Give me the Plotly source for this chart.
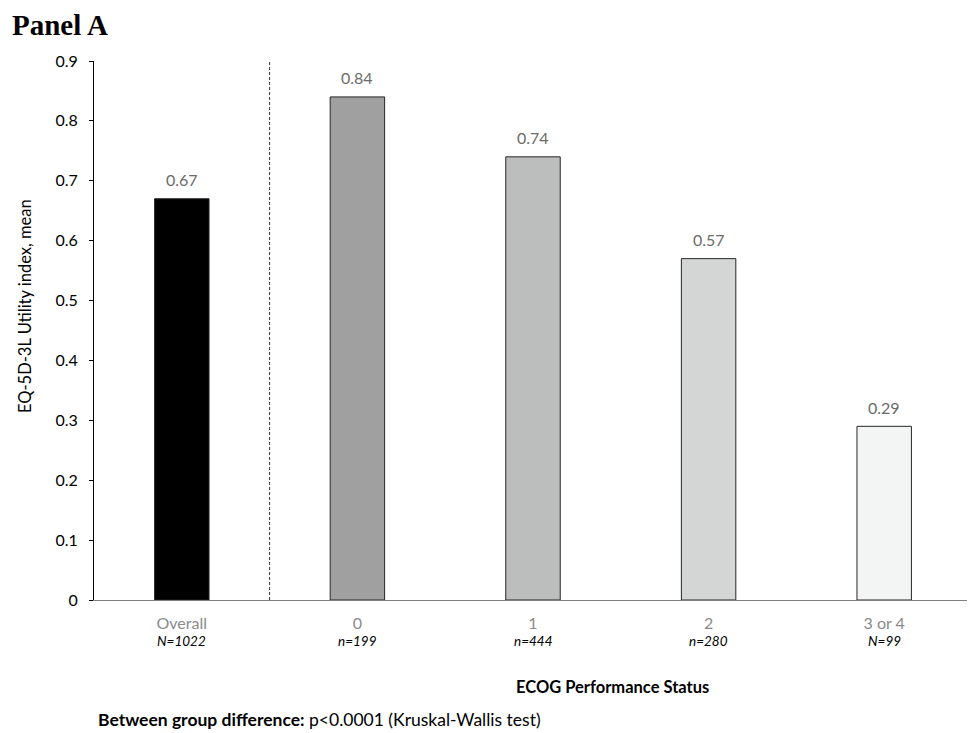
import plotly.graph_objects as go

categories = ["Overall", "0", "1", "2", "3 or 4"]
values = [0.67, 0.84, 0.74, 0.57, 0.29]
n_labels = ["N=1022", "n=199", "n=444", "n=280", "N=99"]
bar_colors = ["#000000", "#a0a0a0", "#bcbdbd", "#d4d5d5", "#f3f4f4"]
y_ticks = [0, 0.1, 0.2, 0.3, 0.4, 0.5, 0.6, 0.7, 0.8, 0.9]
y_tick_text = ["0", "0.1", "0.2", "0.3", "0.4", "0.5", "0.6", "0.7", "0.8", "0.9"]

FONT = "Lato, Open Sans, sans-serif"
x_idx = list(range(len(categories)))

# page body has an 8px margin; compensate so the plot lands where the reference has it
W, H = 967, 725
PLOT_H = 539

def py(pix):
    # page pixel y -> paper coordinate
    return (600 - pix) / PLOT_H

fig = go.Figure()
fig.add_trace(go.Bar(
    x=x_idx, y=values, width=0.31,
    marker=dict(color=bar_colors, line=dict(color="#262626", width=1)),
    showlegend=False, hoverinfo="x+y",
))

# value labels
for i, v in enumerate(values):
    fig.add_annotation(x=i, y=v, xref="x", yref="y", text=f"{v:.2f}", showarrow=False,
                       yanchor="middle", yshift=19,
                       font=dict(family=FONT, size=16, color="#6b6b6b"))

# Dashed separator between Overall and ECOG groups
fig.add_shape(type="line", xref="x", yref="y", x0=0.5, x1=0.5, y0=0, y1=0.9,
              line=dict(color="#333333", width=1, dash="3px,2px"))

# n labels under category ticks
for i, lab in enumerate(n_labels):
    fig.add_annotation(x=i, y=py(641), xref="x", yref="paper", text=f"<i>{lab}</i>",
                       showarrow=False, yanchor="middle",
                       font=dict(family=FONT, size=13.5, color="#000000"))

fig.add_annotation(x=2.45, xref="x", y=py(687), yref="paper", text="<b>ECOG Performance Status</b>",
                   showarrow=False, yanchor="middle",
                   font=dict(family=FONT, size=16.5, color="#000000"))

fig.add_annotation(x=-0.5, xref="x", y=py(720), yref="paper",
                   text="<b>Between group difference:</b> p<0.0001 (Kruskal-Wallis test)",
                   showarrow=False, xanchor="left", yanchor="middle", xshift=2,
                   font=dict(family=FONT, size=17.5, color="#000000"))

fig.add_annotation(x=-0.5, xref="x", y=py(306), yref="paper",
                   text="EQ-5D-3L Utility index, mean", textangle=-90,
                   showarrow=False, xanchor="center", yanchor="middle", xshift=-69,
                   font=dict(family=FONT, size=16.5, color="#000000"))

fig.add_annotation(x=-0.5, xref="x", y=py(25), yref="paper", text="<b>Panel A</b>",
                   showarrow=False, xanchor="left", yanchor="middle", xshift=-84,
                   font=dict(family="Liberation Serif, Times New Roman, serif", size=29, color="#000000"))

fig.update_layout(
    width=W, height=H,
    margin=dict(l=86, r=3, t=53, b=133),
    plot_bgcolor="white", paper_bgcolor="white",
)
fig.update_xaxes(
    range=[-0.5, 4.5], tickmode="array", tickvals=x_idx, ticktext=categories,
    showline=True, linecolor="#7f7f7f", linewidth=1, ticks="", showgrid=False,
    tickfont=dict(family=FONT, size=16, color="#8a8a8a"), ticklabelstandoff=9,
    zeroline=False,
)
fig.update_yaxes(
    range=[0, 0.9], tickmode="array", tickvals=y_ticks, ticktext=y_tick_text,
    showline=True, linecolor="#000000", linewidth=1, ticks="outside", ticklen=4,
    tickcolor="#000000", showgrid=False, zeroline=False, ticklabelstandoff=8,
    tickfont=dict(family=FONT, size=16, color="#000000"),
)

fig.write_html("out.html")
